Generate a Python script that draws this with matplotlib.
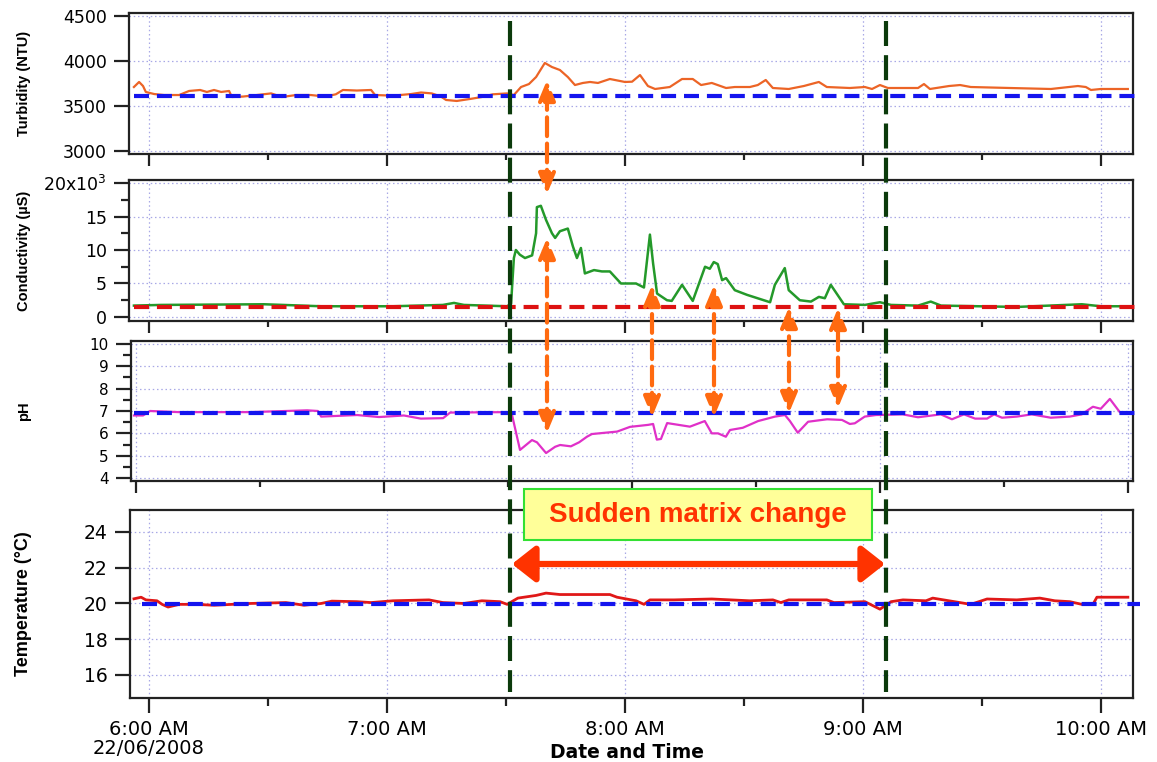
import matplotlib
matplotlib.use('Agg')
import matplotlib.pyplot as plt
from matplotlib.patches import FancyArrowPatch, Rectangle
from matplotlib.lines import Line2D
from matplotlib.ticker import MultipleLocator, FixedLocator, FuncFormatter

# ---------------- data (time = minutes after 6:00 AM, 22/06/2008) ----------------
turb_t = [-3.8, -2.5, -1.5, -0.8, 1.3, 3.8, 7.6, 10.1, 12.9, 14.6, 16.4, 18.2, 20.2, 20.9, 23.7,
          27.2, 30.8, 33.5, 37.1, 40.8, 44.4, 47.1, 48.9, 52.4, 56.0, 57.0, 61.5, 66.1, 68.6, 71.3,
          73.6, 74.9, 77.6, 81.2, 83.9, 86.7, 90.3, 92.0, 93.8, 95.8, 97.6, 99.8, 101.6, 103.6,
          105.6, 107.4, 109.4, 111.2, 113.2, 116.2, 120.0, 121.8, 123.8, 125.8, 127.6, 131.3,
          134.4, 137.1, 139.2, 141.9, 145.5, 147.7, 151.5, 153.5, 155.5, 157.3, 161.3, 165.1,
          168.9, 170.9, 176.7, 180.5, 182.3, 184.3, 186.3, 193.9, 195.4, 196.9, 201.7, 204.5,
          207.2, 217.1, 227.4, 234.2, 236.2, 237.5, 240.0, 246.8]
turb_v = [3711, 3767, 3722, 3656, 3633, 3622, 3622, 3667, 3678, 3656, 3678, 3656, 3667, 3600, 3605,
          3622, 3640, 3600, 3622, 3622, 3605, 3630, 3678, 3672, 3678, 3622, 3615, 3633, 3650, 3640,
          3605, 3567, 3556, 3580, 3600, 3630, 3640, 3622, 3711, 3744, 3822, 3978, 3933, 3900,
          3822, 3733, 3756, 3767, 3756, 3800, 3767, 3770, 3844, 3722, 3689, 3711,
          3800, 3800, 3733, 3756, 3700, 3711, 3711, 3733, 3789, 3700, 3689, 3722,
          3767, 3711, 3700, 3711, 3689, 3733, 3700, 3700, 3744, 3689, 3722, 3733,
          3711, 3700, 3689, 3722, 3711, 3678, 3689, 3689]

cond_t = [-3.8, 3.0, 29.0, 43.4, 61.5, 74.1, 76.9, 79.4, 90.3, 91.3, 91.6, 92.0, 92.5, 93.5, 94.8,
          96.6, 97.6, 97.8, 98.8, 100.1, 101.6, 102.4, 103.6, 105.6, 106.9, 107.9, 108.9, 109.9,
          112.2, 114.2, 116.2, 119.0, 122.8, 124.8, 126.3, 127.1, 128.1, 130.6, 131.8, 134.4,
          137.1, 140.2, 141.4, 142.4, 143.4, 144.5, 145.5, 147.7, 150.8, 156.6, 157.8, 160.3,
          161.3, 164.1, 166.9, 168.9, 170.4, 171.9, 175.2, 180.5, 184.3, 187.1, 193.9, 197.1,
          199.7, 218.8, 235.2, 240.0, 247.6]
cond_v = [1.7, 1.8, 1.9, 1.6, 1.6, 1.8, 2.1, 1.8, 1.6, 2.0, 5.0, 8.8, 10.0, 9.3, 8.8,
          9.2, 12.5, 16.4, 16.6, 14.5, 12.5, 11.8, 12.8, 13.2, 10.5, 8.8, 10.3, 6.5,
          7.0, 6.8, 6.8, 5.0, 5.0, 4.4, 12.3, 8.0, 3.5, 2.5, 2.4, 4.8,
          2.4, 7.5, 7.2, 8.2, 7.9, 5.5, 5.8, 4.0, 3.3, 2.2, 4.8, 7.3,
          4.0, 2.5, 2.3, 3.0, 2.8, 4.8, 1.9, 1.8, 2.2, 1.8, 1.7, 2.3,
          1.7, 1.5, 1.9, 1.6, 1.6]  # x10^3 uS

ph_t = [-0.5, 1.7, 3.4, 10.4, 27.6, 41.4, 44.0, 44.8, 53.5, 58.8, 64.8, 68.9, 74.3, 76.0, 89.7,
        91.0, 92.9, 95.8, 97.0, 99.2, 101.4, 102.6, 105.2, 107.2, 109.1, 110.3, 116.4, 119.5,
        123.9, 125.1, 126.0, 127.0, 128.5, 134.0, 137.6, 139.3, 140.8, 142.7, 143.7, 146.8,
        150.5, 154.6, 157.0, 158.2, 160.1, 162.6, 167.2, 170.8, 172.7, 173.9, 176.3, 179.0,
        185.5, 189.2, 194.7, 197.4, 200.3, 203.0, 205.9, 207.6, 209.5, 213.1, 216.7, 221.3,
        225.9, 228.8, 231.5, 233.4, 235.6, 238.0, 240.0]
ph_v = [6.8, 6.8, 7.0, 6.95, 6.95, 7.03, 7.0, 6.75, 6.82, 6.73, 6.8, 6.66, 6.68, 6.93, 6.95,
        6.8, 5.26, 5.7, 5.6, 5.12, 5.4, 5.48, 5.42, 5.6, 5.85, 5.97, 6.08, 6.29,
        6.38, 6.42, 5.72, 5.75, 6.46, 6.3, 6.55, 6.0, 6.0, 5.85, 6.15, 6.25,
        6.55, 6.75, 6.82, 6.55, 6.03, 6.52, 6.63, 6.6, 6.42, 6.45, 6.75, 6.82,
        6.85, 6.72, 6.85, 6.63, 6.85, 6.66, 6.66, 6.85, 6.7, 6.75, 6.85, 6.7,
        6.75, 6.85, 7.19, 7.1, 7.54, 6.95, 6.9]

temp_t = [-3.8, -2.0, -0.8, 2.0, 3.3, 4.8, 7.6, 11.8, 16.4, 25.5, 34.5, 39.1, 43.4, 46.1, 52.4,
          56.0, 61.5, 70.6, 74.1, 79.4, 83.9, 88.5, 90.3, 93.0, 97.6, 100.1, 103.6, 116.2, 118.0,
          122.8, 124.8, 126.3, 132.4, 141.9, 151.5, 157.3, 159.3, 161.3, 170.9, 172.7, 180.5,
          184.3, 187.1, 190.1, 195.9, 197.6, 201.7, 207.2, 211.3, 218.8, 224.6, 228.4, 232.2,
          235.2, 238.0, 239.0, 246.8]
temp_v = [20.26, 20.35, 20.2, 20.15, 19.95, 19.8, 19.95, 19.95, 19.9, 20.0, 20.05, 19.9, 20.0, 20.13, 20.1,
          20.05, 20.15, 20.2, 20.05, 20.0, 20.15, 20.1, 19.95, 20.3, 20.45, 20.58, 20.5, 20.5, 20.35,
          20.15, 19.95, 20.2, 20.2, 20.25, 20.15, 20.2, 20.05, 20.2, 20.2, 20.05, 20.1,
          19.68, 20.1, 20.2, 20.15, 20.3, 20.15, 19.95, 20.25, 20.2, 20.3, 20.15, 20.1,
          19.95, 19.95, 20.35, 20.35]

baseline_turb = 3610
baseline_cond = 1.5
baseline_ph = 6.92
baseline_temp = 19.97

hour_ticks = [0, 60, 120, 180, 240]
hour_labels = ["6:00 AM\n22/06/2008", "7:00 AM", "8:00 AM", "9:00 AM", "10:00 AM"]
annotation_text = "Sudden matrix change"

# ---------------- figure / layout (pixel helpers) ----------------
W, H = 1157, 762
plt.rcParams['font.family'] = ['DejaVu Sans']
fig = plt.figure(figsize=(W / 100, H / 100), dpi=100)


def fx(px):
    return px / W


def fy(py):
    return 1 - py / H


def add_axes(l, t, r, b):
    return fig.add_axes([fx(l), fy(b), (r - l) / W, (b - t) / H])


ax1 = add_axes(129, 13, 1133, 154)
ax2 = add_axes(129, 180, 1133, 321)
ax3 = add_axes(131, 341, 1133, 481)
ax4 = add_axes(130, 510, 1133, 698)

frame_c = '#222222'
grid_c = '#A8A8E6'

for ax in (ax1, ax2, ax3, ax4):
    for s in ax.spines.values():
        s.set_linewidth(1.6)
        s.set_color(frame_c)
    ax.xaxis.set_major_locator(FixedLocator(hour_ticks))
    ax.xaxis.set_minor_locator(MultipleLocator(30))
    ax.grid(True, which='major', color=grid_c, linestyle=(0, (1.2, 2.2)), linewidth=0.9)
    ax.tick_params(which='both', direction='out', width=1.6, color=frame_c)
    ax.tick_params(axis='y', which='major', length=11, pad=5)
    ax.tick_params(axis='y', which='minor', length=5.5)
    ax.tick_params(axis='x', which='major', length=8.5)
    ax.tick_params(axis='x', which='minor', length=4.5)
    ax.set_axisbelow(True)

for ax in (ax1, ax2, ax3):
    ax.tick_params(axis='x', labelbottom=False)

# limits
ax1.set_xlim(-5.04, 248.1)
ax2.set_xlim(-5.04, 248.1)
ax3.set_xlim(-1.21, 241.2)
ax4.set_xlim(-4.8, 248.1)

ax1.set_ylim(2967, 4533)
ax2.set_ylim(-0.6, 20.45)
ax3.set_ylim(3.87, 10.13)
ax4.set_ylim(14.71, 25.23)

# y ticks
ax1.set_yticks([3000, 3500, 4000, 4500])
ax2.set_yticks([0, 5, 10, 15, 20])
ax2.yaxis.set_minor_locator(MultipleLocator(2.5))
ax2.yaxis.set_major_formatter(FuncFormatter(lambda v, p: '20x10$^{3}$' if v == 20 else f'{v:g}'))
ax3.set_yticks([4, 5, 6, 7, 8, 9, 10])
ax3.yaxis.set_minor_locator(MultipleLocator(0.5))
ax4.set_yticks([16, 18, 20, 22, 24])

ax1.tick_params(axis='y', labelsize=12.5)
ax2.tick_params(axis='y', labelsize=12.5)
ax3.tick_params(axis='y', labelsize=11)
ax4.tick_params(axis='y', labelsize=13.5)

ax4.set_xticklabels(hour_labels, fontsize=14, linespacing=1.0)
ax4.tick_params(axis='x', which='major', length=11, pad=5)
ax4.tick_params(axis='x', which='minor', length=6)

# curves
ax1.plot(turb_t, turb_v, color='#EC6426', lw=1.6, zorder=3)
ax2.plot(cond_t, cond_v, color='#24992A', lw=1.8, zorder=3)
ax3.plot(ph_t, ph_v, color='#E030C8', lw=1.6, zorder=3)
ax4.plot(temp_t, temp_v, color='#E01818', lw=2.0, zorder=3)

# baselines (dashed)
dash = (0, (3.6, 1.9))
for ax, base, t0, col in ((ax1, baseline_turb, turb_t[0], '#1414EE'),
                          (ax2, baseline_cond, cond_t[0], '#DD1111'),
                          (ax3, baseline_ph, ph_t[0], '#1414EE'),
                          (ax4, baseline_temp, temp_t[0] + 2, '#1414EE')):
    x0, x1 = ax.get_xlim()
    ax.axhline(base, xmin=(t0 - x0) / (x1 - x0), xmax=1.007, color=col, lw=3,
               linestyle=dash, clip_on=False, zorder=4)

# y labels
ylab_font = dict(family='Liberation Sans', fontweight='bold')
for ax, lab, size, (top, bot) in ((ax1, 'Turbidity (NTU)', 10.5, (13, 154)),
                                  (ax2, 'Conductivity (µS)', 10.5, (180, 321)),
                                  (ax3, 'pH', 10.5, (341, 481)),
                                  (ax4, 'Temperature (°C)', 13, (510, 698))):
    ax.set_ylabel(lab, fontsize=size, va='center', **ylab_font)
    ax.yaxis.set_label_coords(fx(24), fy((top + bot) / 2), transform=fig.transFigure)

fig.text(fx(627), fy(752), 'Date and Time', ha='center', va='center',
         fontsize=13.5, fontweight='bold')

# ---------------- annotations ----------------
green = '#0B3A0B'
for xg in (510, 886):
    fig.add_artist(Line2D([fx(xg), fx(xg)], [fy(21), fy(692)], transform=fig.transFigure,
                          color=green, lw=3, linestyle=(0, (6, 2.2)), zorder=6))

orange = '#FF6A10'
for x, ytop, ybot in ((547, 80, 194), (547, 238, 433), (652, 285, 417),
                      (714, 285, 417), (789, 307, 413), (838, 308, 408)):
    fig.add_artist(FancyArrowPatch((fx(x), fy(ybot)), (fx(x), fy(ytop)),
                                   transform=fig.transFigure,
                                   arrowstyle='<|-|>,head_length=12,head_width=5',
                                   mutation_scale=1, shrinkA=0, shrinkB=0,
                                   color=orange, lw=3, linestyle=(0, (4.5, 1.8)), zorder=7))

red = '#FF3300'
fig.add_artist(FancyArrowPatch((fx(512), fy(564)), (fx(885), fy(564)),
                               transform=fig.transFigure,
                               arrowstyle='<|-|>,head_length=14,head_width=11',
                               mutation_scale=1, shrinkA=0, shrinkB=0,
                               color=red, lw=4.5, zorder=7))

fig.add_artist(Rectangle((fx(524), fy(540)), (872 - 524) / W, (540 - 489) / H,
                         transform=fig.transFigure, facecolor='#FFFF99',
                         edgecolor='#33E033', lw=1.5, zorder=6))
fig.text(fx(698), fy(515), annotation_text, ha='center', va='center', color=red,
         fontsize=20, fontweight='bold', family='Liberation Sans', zorder=8)

fig.savefig('out.png', dpi=100)
